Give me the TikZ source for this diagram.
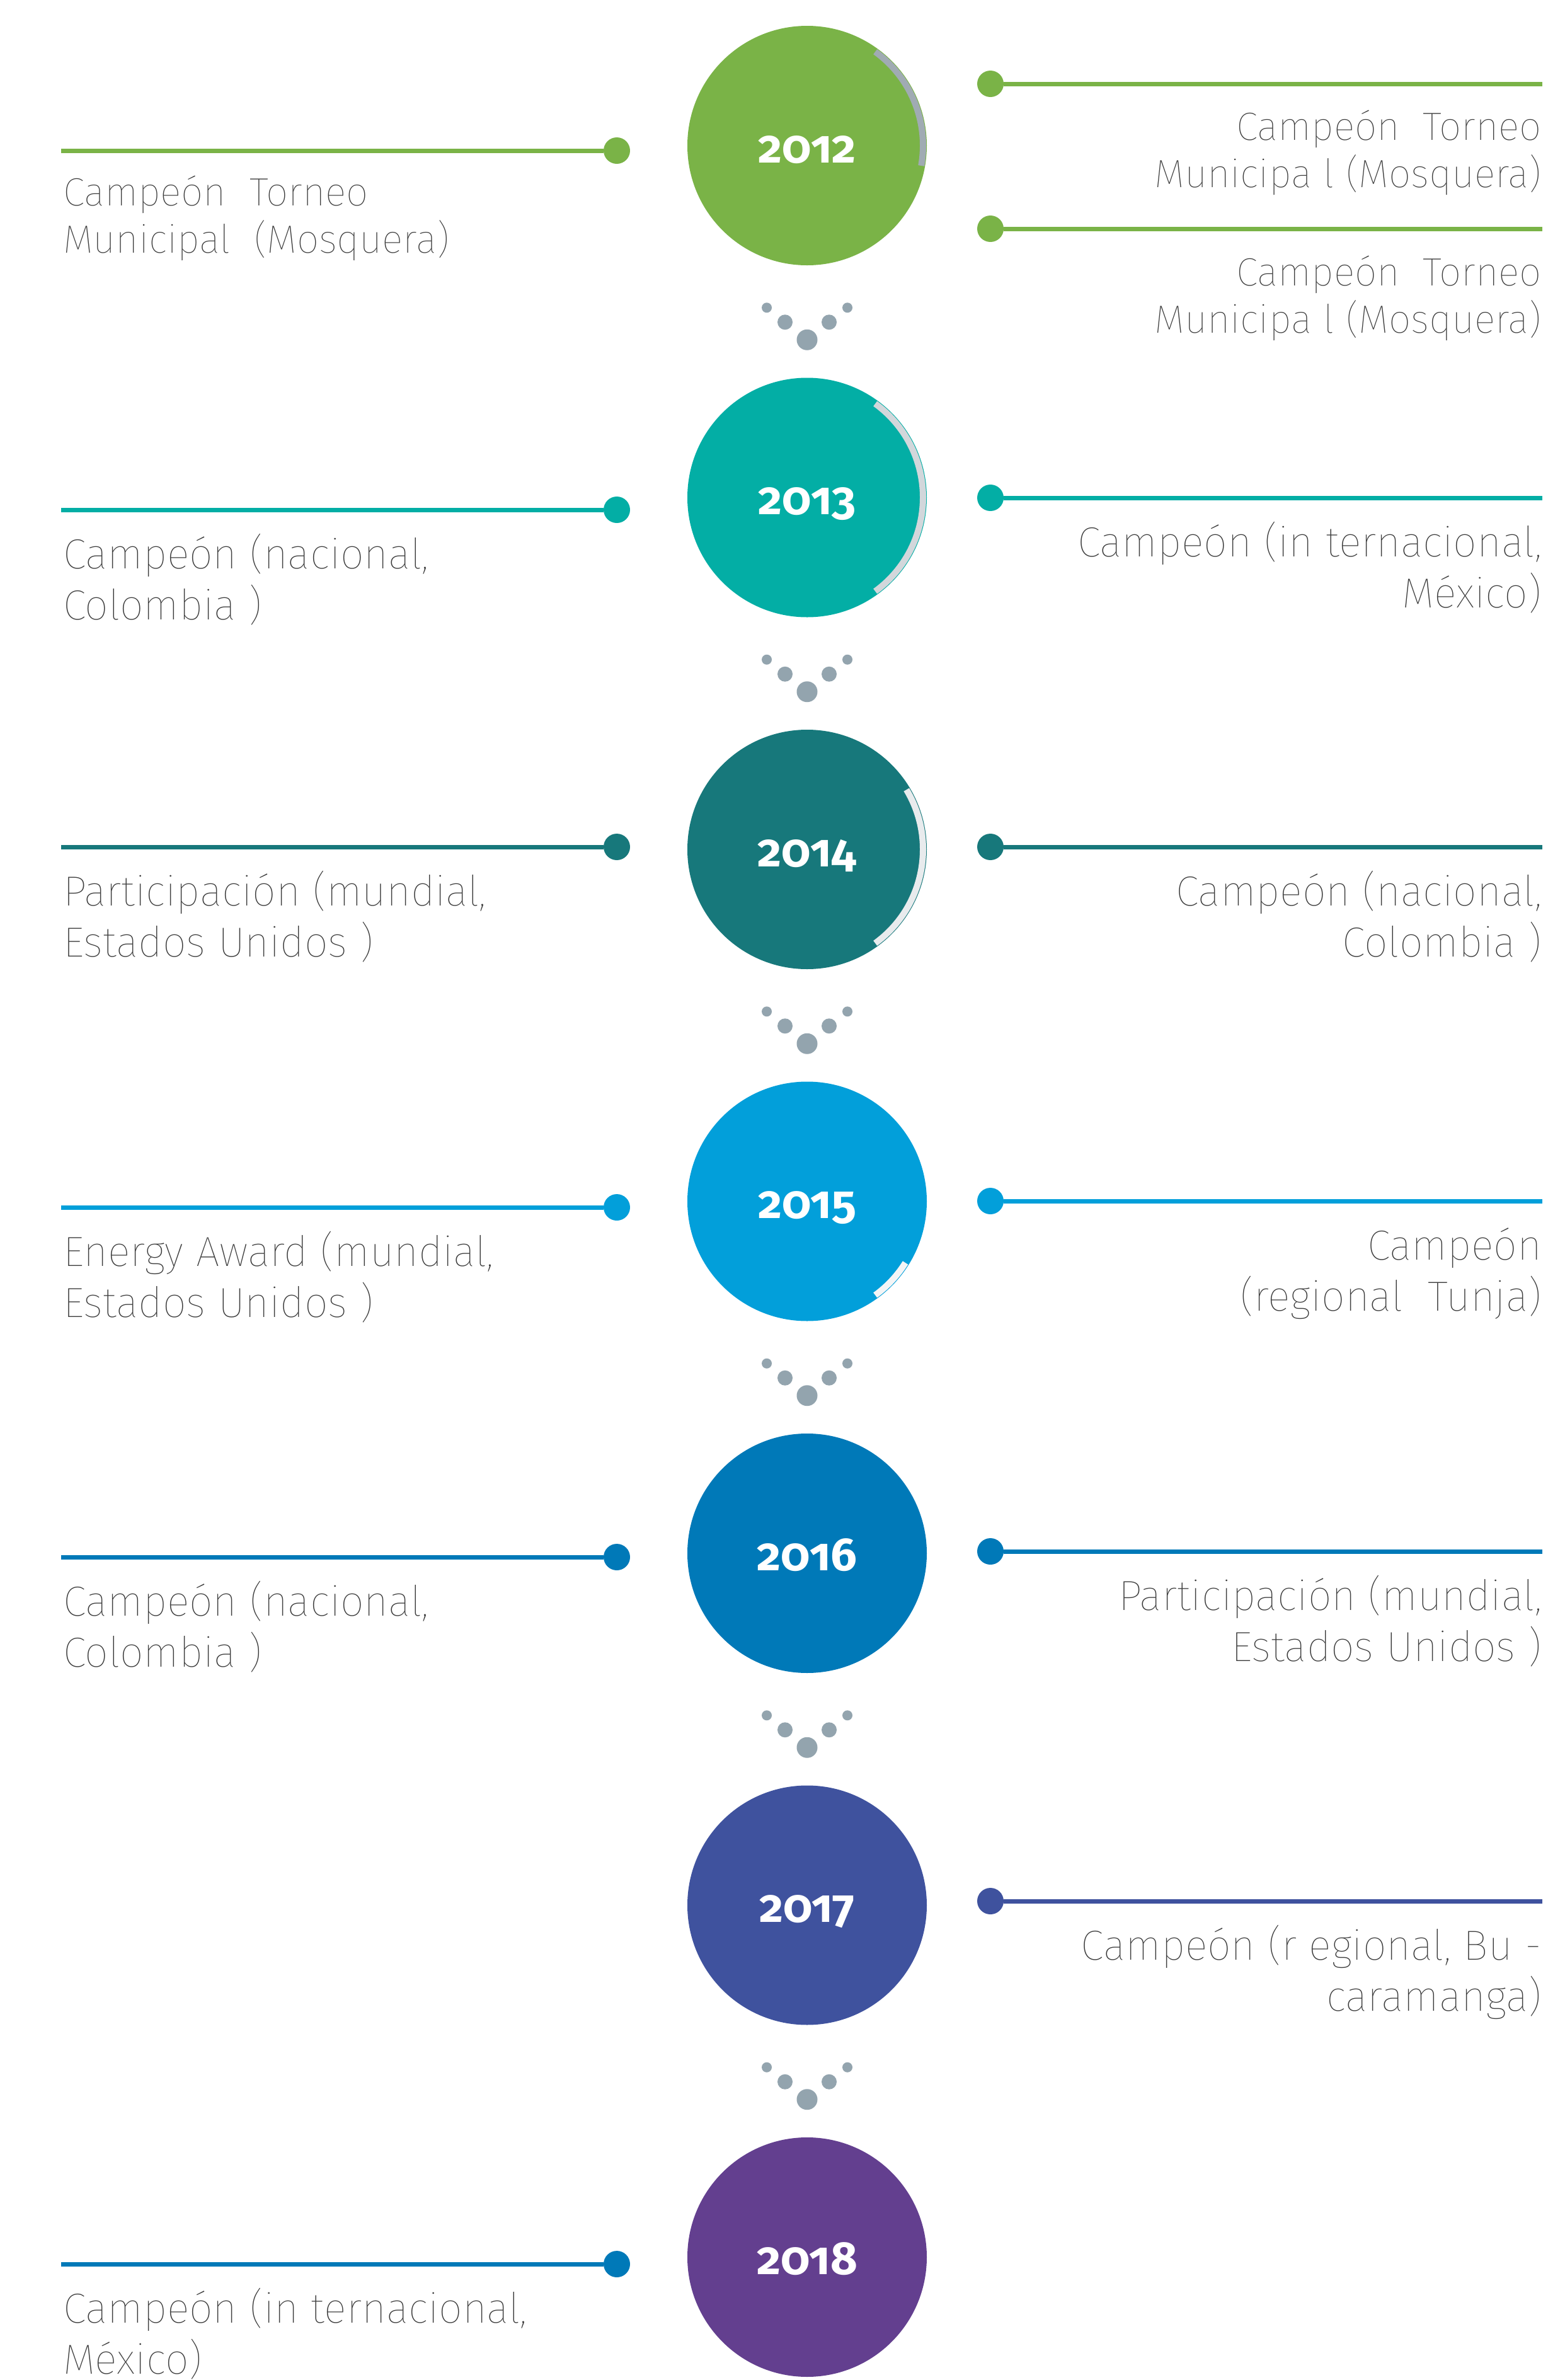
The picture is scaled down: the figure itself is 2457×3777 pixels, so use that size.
\documentclass[tikz,border=0pt]{standalone}
\usepackage{fontspec}
\setmainfont{Fira Sans}[UprightFont=* Thin]
\newfontfamily\yearfont{Fira Sans}[UprightFont=* Bold, Numbers=OldStyle]
\usetikzlibrary{positioning,calc}
\tikzstyle{line} = [draw, line width=0.7mm]
\definecolor{mygreen}{HTML}{7AB347}
\definecolor{myteal}{HTML}{03AEA5}
\definecolor{mydteal}{HTML}{17787B}
\definecolor{mybluei}{HTML}{029FDA}
\definecolor{myblueii}{HTML}{0079B8}
\definecolor{myindigo}{HTML}{3F529E}
\definecolor{mypurple}{HTML}{633F8F}
\definecolor{mygray}{HTML}{93A4AE}
\definecolor{mytext}{HTML}{3C3C3C}
\definecolor{bandi}{HTML}{A0ABB3}
\definecolor{bandii}{HTML}{D2D7DB}
\definecolor{bandiii}{HTML}{E8EBED}
\definecolor{bandiv}{HTML}{F4F5F6}

\begin{document}
\begin{tikzpicture}[x=0.1mm,y=-0.1mm,node distance=17.85mm,outer sep=0pt,
yearc/.style={
  circle,
  fill=#1,
  minimum size=38mm,
  inner sep=0pt,
  font={\yearfont\fontsize{21}{21}\selectfont\color{white}},
  text height=15.4pt,
  text depth=0pt},
dotb/.style={circle,fill=#1,minimum size=4.2mm,inner sep=0pt},
ltext/.style={
  anchor=base west,
  align=left,
  inner sep=0pt,
  text=mytext,
  font={\fontsize{19}{23}\selectfont}},
rtext/.style={ltext,anchor=base east,align=right},
firstyr/.style={font={\fontsize{17.8}{21.3}\selectfont}},
band/.style={line width=1mm,draw=#1},
]
\useasboundingbox (0,0) rectangle (2457,3777);

% years
\node[yearc=mygreen] (c2012) at (1281,231) {2012};
\node[yearc=myteal, below=of c2012] (c2013) {2013};
\node[yearc=mydteal, below=of c2013] (c2014) {2014};
\node[yearc=mybluei, below=of c2014] (c2015) {2015};
\node[yearc=myblueii, below=of c2015] (c2016) {2016};
\node[yearc=myindigo, below=of c2016] (c2017) {2017};
\node[yearc=mypurple, below=of c2017] (c2018) {2018};

\draw[band=bandi] ([shift={(54:18.4mm)}]c2012.center) arc[start angle=54,end angle=-10,radius=18.4mm];
\draw[band=bandii] ([shift={(54:18.4mm)}]c2013.center) arc[start angle=54,end angle=-54,radius=18.4mm];
\draw[band=bandiii] ([shift={(31:18.4mm)}]c2014.center) arc[start angle=31,end angle=-54,radius=18.4mm];
\draw[band=bandiv] ([shift={(-32:18.4mm)}]c2015.center) arc[start angle=-32,end angle=-54,radius=18.4mm];

% dots between the years
\foreach \a/\b in {c2012/c2013,c2013/c2014,c2014/c2015,c2015/c2016,c2016/c2017,c2017/c2018}{
  \coordinate (m) at ($(\a)!0.5!(\b)$);
  \fill[mygray] (m) ++(-64,-22) circle[radius=0.8mm];
  \fill[mygray] (m) ++(64,-22) circle[radius=0.8mm];
  \fill[mygray] (m) ++(-35,1) circle[radius=1.2mm];
  \fill[mygray] (m) ++(35,1) circle[radius=1.2mm];
  \fill[mygray] (m) ++(0,29) circle[radius=1.65mm];
}

% left side
\node[dotb=mygreen] (l2012) at (979,239) {};
\node[dotb=myteal] (l2013) at (979,809) {};
\node[dotb=mydteal] (l2014) at (979,1344) {};
\node[dotb=mybluei] (l2015) at (979,1916) {};
\node[dotb=myblueii] (l2016) at (979,2471) {};
\node[dotb=myblueii] (l2018) at (979,3593) {};
\coordinate (le2012) at (97,239);
\coordinate (le2013) at (97,809);
\coordinate (le2014) at (97,1344);
\coordinate (le2015) at (97,1916);
\coordinate (le2016) at (97,2471);
\coordinate (le2018) at (97,3593);
\path[line,mygreen] (le2012) -- (l2012);
\path[line,myteal] (le2013) -- (l2013);
\path[line,mydteal] (le2014) -- (l2014);
\path[line,mybluei] (le2015) -- (l2015);
\path[line,myblueii] (le2016) -- (l2016);
\path[line,myblueii] (le2018) -- (l2018);

% text anchors sit on the last line
\node[ltext,firstyr] (t2012) at (100,401) {Campeón~~Torneo\\Municipal~~(Mosquera)};
\node[ltext] (t2013) at (100,983) {Campeón (nacional,\\Colombia )};
\node[ltext] (t2014) at (100,1518) {Participación (mundial,\\Estados Unidos )};
\node[ltext] (t2015) at (100,2090) {Energy Award (mundial,\\Estados Unidos )};
\node[ltext] (t2016) at (100,2645) {Campeón (nacional,\\Colombia )};
\node[ltext] (t2018) at (100,3767) {Campeón (in ternacional,\\México)};

% right side
\node[dotb=mygreen] (r2012a) at (1572,133) {};
\node[dotb=mygreen] (r2012b) at (1572,363) {};
\node[dotb=myteal] (r2013) at (1572,790) {};
\node[dotb=mydteal] (r2014) at (1572,1344) {};
\node[dotb=mybluei] (r2015) at (1572,1906) {};
\node[dotb=myblueii] (r2016) at (1572,2462) {};
\node[dotb=myindigo] (r2017) at (1572,3017) {};
\coordinate (re2012a) at (2448,133);
\coordinate (re2012b) at (2448,363);
\coordinate (re2013) at (2448,790);
\coordinate (re2014) at (2448,1344);
\coordinate (re2015) at (2448,1906);
\coordinate (re2016) at (2448,2462);
\coordinate (re2017) at (2448,3017);
\path[line,mygreen] (r2012a) -- (re2012a);
\path[line,mygreen] (r2012b) -- (re2012b);
\path[line,myteal] (r2013) -- (re2013);
\path[line,mydteal] (r2014) -- (re2014);
\path[line,mybluei] (r2015) -- (re2015);
\path[line,myblueii] (r2016) -- (re2016);
\path[line,myindigo] (r2017) -- (re2017);

\node[rtext,firstyr] (s2012a) at (2447,297) {Campeón~~Torneo\\Municipa l (Mosquera)};
\node[rtext,firstyr] (s2012b) at (2447,528) {Campeón~~Torneo\\Municipa l (Mosquera)};
\node[rtext] (s2013) at (2447,964) {Campeón (in ternacional,\\México)};
\node[rtext] (s2014) at (2447,1518) {Campeón (nacional,\\Colombia )};
\node[rtext] (s2015) at (2447,2080) {Campeón\\(regional~~Tunja)};
\node[rtext] (s2016) at (2447,2636) {Participación (mundial,\\Estados Unidos )};
\node[rtext] (s2017) at (2447,3191) {Campeón (r egional, Bu -\\caramanga)};
\end{tikzpicture}
\end{document}
